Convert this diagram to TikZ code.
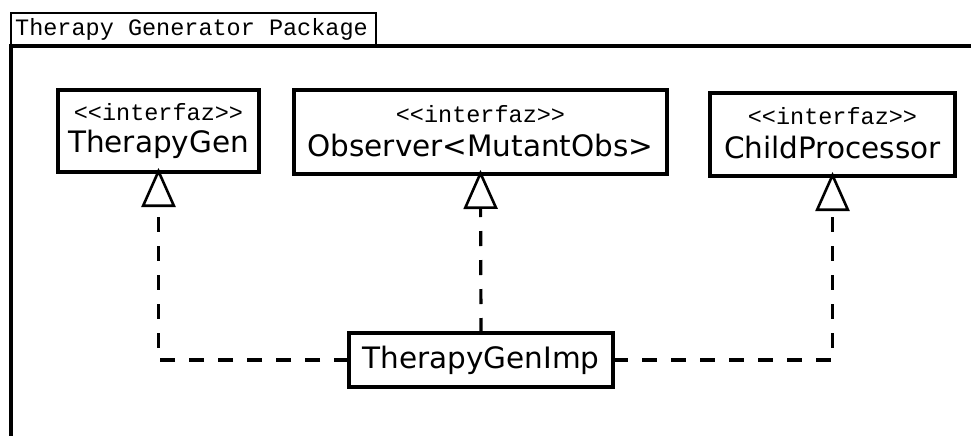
\documentclass[tikz,border=0pt]{standalone}
\usepackage{fontspec}
\usetikzlibrary{arrows.meta}
\newfontfamily\umlmono{Liberation Mono}
\newfontfamily\umlsans{DejaVu Sans}
\tikzset{
  classbox/.style={draw, line width=3.2pt, rectangle, inner sep=0pt, outer sep=0pt, anchor=north west},
  stereo/.style={font=\umlmono\fontsize{23.5}{25}\selectfont, inner sep=0pt},
  cname/.style={font=\umlsans\fontsize{29.5}{32}\selectfont, inner sep=0pt},
  realize/.style={line width=3.2pt, dash pattern=on 15pt off 14pt, shorten >=-4pt,
    -{Triangle[open, length=39pt, width=34pt, line width=2.6pt]}},
}
\begin{document}
\begin{tikzpicture}[x=1pt, y=-1pt]
\useasboundingbox (0,0) rectangle (971,436);
\fill[white] (0,0) rectangle (971,436);
% package frame and tab
\draw[line width=3.2pt] (971,46) -- (11,46) -- (11,440);
\draw[line width=2.6pt] (11,13) rectangle (376,46);
\node[font=\umlmono\fontsize{23.5}{25}\selectfont, anchor=west, inner sep=0pt] (pkg) at (15,29) {Therapy Generator Package};
% interfaces
\node[classbox, minimum width=201pt, minimum height=82pt] (tg) at (58,90) {};
\node[stereo] (tgs) at (158.5,112) {<<interfaz>>};
\node[cname] (tgn) at (158.5,144) {TherapyGen};
\node[classbox, minimum width=373pt, minimum height=84pt] (obs) at (294,90) {};
\node[stereo] (obss) at (480.5,114) {<<interfaz>>};
\node[cname] (obsn) at (480.5,146) {Observer<MutantObs>};
\node[classbox, minimum width=245pt, minimum height=83pt] (cp) at (710,93) {};
\node[stereo] (cps) at (832.5,116) {<<interfaz>>};
\node[cname] (cpn) at (832.5,148) {ChildProcessor};
% implementation
\node[classbox, minimum width=264pt, minimum height=54pt] (imp) at (349,333) {};
\node[cname] (impn) at (481,360) {TherapyGenImp};
% realizations
\draw[realize] (imp.west) -| (tg.south);
\draw[realize] (imp.north) -- (obs.south);
\draw[realize] (imp.east) -| (cp.south);
\end{tikzpicture}
\end{document}
